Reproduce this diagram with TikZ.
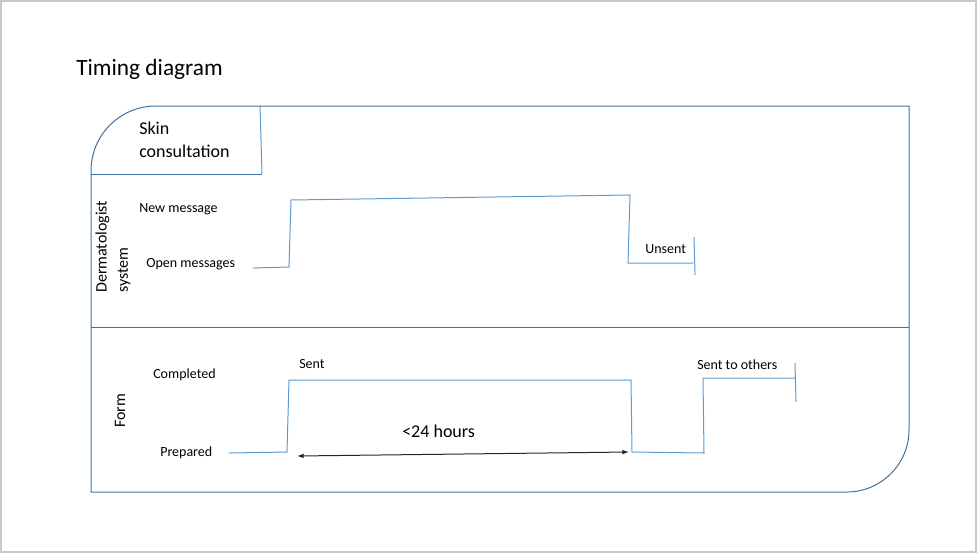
\documentclass[tikz,border=0pt]{standalone}
\usepackage{fontspec}
\setmainfont{Carlito}
\usetikzlibrary{arrows.meta}
\definecolor{framec}{HTML}{41719C}
\definecolor{sigc}{HTML}{5B9BD5}
\definecolor{slidec}{HTML}{C8C8C8}

\begin{document}
\begin{tikzpicture}[x=0.75pt,y=-0.75pt,
		frame/.style={draw=framec,line width=0.75pt},
		signal/.style={draw=sigc,line width=0.75pt},
		lbl/.style={anchor=base west,inner sep=0pt,font=\fontsize{10.5}{12}\selectfont},
		big/.style={anchor=base west,inner sep=0pt,align=left,font=\fontsize{13.5}{16.5}\selectfont},
		lane/.style={rotate=90,anchor=west,inner sep=0pt,align=left,font=\fontsize{12}{16}\selectfont}]
		\useasboundingbox (0,0) rectangle (977,554);
		\draw[slidec,line width=0.9pt] (1,1) rectangle (976,552);
		\node[anchor=base west,inner sep=0pt,font=\fontsize{17.5}{20}\selectfont] (title) at (76,75) {Timing diagram};
		% frame
		\draw[frame] (91,492) -- (91,171) .. controls (91,135) and (120,106) .. (156,106)
			-- (909,106) -- (909,430) .. controls (909,464) and (881,492) .. (847,492) -- cycle;
		\draw[signal] (260,106) -- (262,174);
		\draw[frame] (262,174) -- (91,174);
		\draw[frame] (91,327) -- (909,327);
		\node[big] (skin) at (139,157) {Skin\\[0.3pt]consultation};
		% Dermatologist system
		\node[lane] (derm) at (113,293) {Dermatologist\\system};
		\node[lbl] (newmsg) at (139,212) {New message};
		\node[lbl] (openmsg) at (146,267) {Open messages};
		\node[lbl] (unsent) at (645,253) {Unsent};
		\draw[signal] (253,268) -- (289,267) -- (291,200) -- (630,195) -- (628,263) -- (693,263);
		\draw[signal] (694,237) -- (695,275);
		% Form
		\node[lane] (form) at (120,428) {Form};
		\node[lbl] (completed) at (153,378) {Completed};
		\node[lbl] (prepared) at (160,456) {Prepared};
		\node[lbl] (sent) at (299,368) {Sent};
		\node[lbl] (others) at (697,369) {Sent to others};
		\draw[signal] (229,453) -- (287,452) -- (289,380) -- (631,380) -- (632,452) -- (704,453) -- (703,378) -- (795,378);
		\draw[signal] (795,363) -- (796,402);
		% 24 hours
		\coordinate (tstart) at (297,456);
		\coordinate (tend) at (629,452);
		\draw[{Latex[length=5pt,width=3.5pt]}-{Latex[length=5pt,width=3.5pt]},black!85,line width=0.75pt] (tstart) -- (tend);
		\node[big] (hours) at (402,437) {<24 hours};
	\end{tikzpicture}
\end{document}
